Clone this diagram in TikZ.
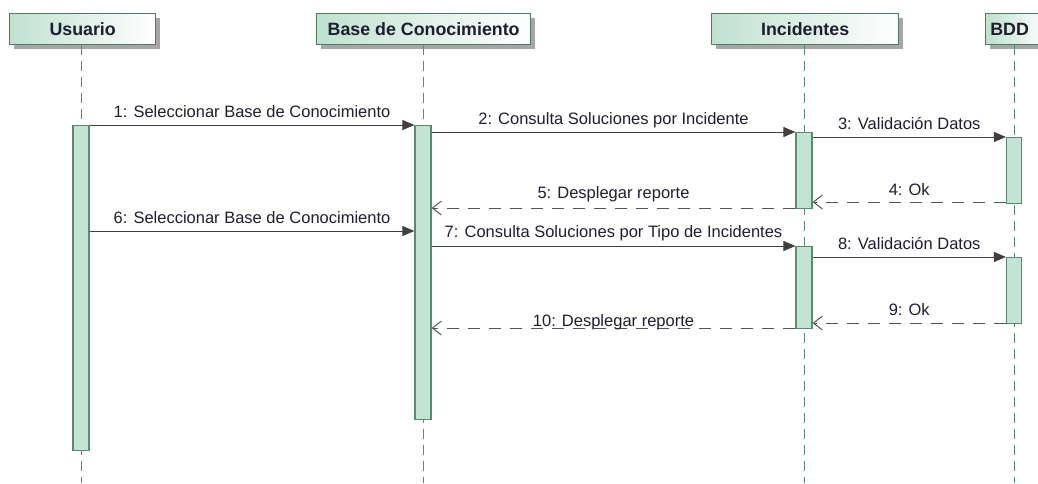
\documentclass[tikz,border=0pt]{standalone}
\usepackage{fontspec}
\setmainfont{Liberation Sans}
\usetikzlibrary{arrows.meta,shadows}
\definecolor{hdr}{HTML}{BFE1D0}
\definecolor{edgec}{HTML}{4F7A63}
\definecolor{barfill}{HTML}{C3E3D3}
\definecolor{baredge}{HTML}{5B8A71}
\definecolor{life}{HTML}{5F8A75}
\definecolor{msgc}{HTML}{404040}
\definecolor{retc}{HTML}{555555}
\definecolor{txt}{HTML}{1E1E30}
\begin{document}
\begin{tikzpicture}[x=1pt,y=-1pt,
  header/.style={draw=edgec, line width=1.3pt, left color=hdr, right color=white,
    minimum height=31, inner sep=0pt, anchor=north west,
    font=\fontsize{17.8}{20}\selectfont\bfseries, text=txt,
    drop shadow={shadow xshift=4pt,shadow yshift=-4pt,fill=black!35,opacity=1}},
  lifeline/.style={draw=life, line width=1pt, dash pattern=on 10pt off 6pt},
  actbar/.style={draw=baredge, line width=1.2pt, fill=barfill, minimum width=16,
    inner sep=0pt, anchor=north},
  sync/.style={draw=msgc, line width=1pt, -{Triangle[length=12pt,width=10pt,fill=msgc]}},
  reply/.style={draw=retc, line width=1pt, dash pattern=on 12pt off 9pt,
    -{Straight Barb[length=9pt,width=14pt,line width=1pt]}},
  lbl/.style={font=\fontsize{16.5}{19}\selectfont, text=txt, anchor=base, inner sep=0pt}
]
\useasboundingbox (0,0) rectangle (1038,483);

% lifeline x positions
\coordinate (lu) at (81,0);
\coordinate (lb) at (423,0);
\coordinate (li) at (804,0);
\coordinate (ld) at (1014,0);

% headers
\node[header, minimum width=146] (hu) at (9,13) {Usuario};
\node[header, minimum width=214] (hb) at (316,13) {Base de Conocimiento};
\node[header, minimum width=187] (hi) at (711,13) {Incidentes};
\node[header, minimum width=62] (hd) at (985,13) {\hspace*{-14pt}BDD};

% lifelines
\draw[lifeline] (lu |- hu.south) -- (lu |- 0,483);
\draw[lifeline] (lb |- hb.south) -- (lb |- 0,483);
\draw[lifeline] (li |- hi.south) -- (li |- 0,483);
\draw[lifeline] (ld |- hd.south) -- (ld |- 0,483);

% activation bars
\node[actbar, minimum height=325] (ub) at (lu |- 0,125) {};
\node[actbar, minimum height=294] (bb) at (lb |- 0,125) {};
\node[actbar, minimum height=76] (ib1) at (li |- 0,132) {};
\node[actbar, minimum height=82] (ib2) at (li |- 0,246) {};
\node[actbar, minimum height=66, minimum width=15] (db1) at (ld |- 0,137) {};
\node[actbar, minimum height=66, minimum width=15] (db2) at (ld |- 0,257) {};

% messages
\draw[sync] (ub.east |- 0,125) -- node[lbl, yshift=8pt] {1: Seleccionar Base de Conocimiento} (bb.west |- 0,125);
\draw[sync] (bb.east |- 0,132) -- node[lbl, yshift=8pt] {2: Consulta Soluciones por Incidente} (ib1.west |- 0,132);
\draw[sync] (ib1.east |- 0,137) -- node[lbl, yshift=8pt] {3: Validación Datos} (db1.west |- 0,137);
\draw[reply] (db1.west |- 0,202) -- node[lbl, yshift=7pt] {4: Ok} (ib1.east |- 0,202);
\draw[reply] (ib1.west |- 0,208) -- node[lbl, yshift=10pt] {5: Desplegar reporte} (bb.east |- 0,208);
\draw[sync] (ub.east |- 0,231) -- node[lbl, yshift=8pt] {6: Seleccionar Base de Conocimiento} (bb.west |- 0,231);
\draw[sync] (bb.east |- 0,246) -- node[lbl, yshift=9pt] {7: Consulta Soluciones por Tipo de Incidentes} (ib2.west |- 0,246);
\draw[sync] (ib2.east |- 0,257) -- node[lbl, yshift=8pt] {8: Validación Datos} (db2.west |- 0,257);
\draw[reply] (db2.west |- 0,323) -- node[lbl, yshift=8pt] {9: Ok} (ib2.east |- 0,323);
\draw[reply] (ib2.west |- 0,328) -- node[lbl, yshift=2pt] {10: Desplegar reporte} (bb.east |- 0,328);
\end{tikzpicture}
\end{document}
